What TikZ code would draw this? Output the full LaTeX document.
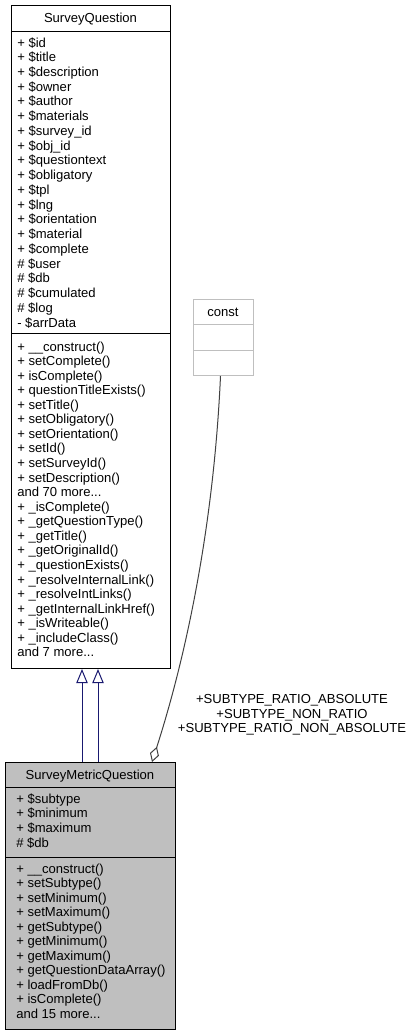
\documentclass[tikz,border=0pt]{standalone}
\usepackage{fontspec}
\setmainfont{Liberation Sans}
\usetikzlibrary{arrows.meta}
\definecolor{navyedge}{HTML}{191970}
\definecolor{edgegrey}{HTML}{404040}
\definecolor{boxgrey}{HTML}{BFBFBF}
\newcommand\mytdots{...}
\tikzset{
  x=0.75pt, y=-0.75pt,
  txt/.style={inner sep=0pt, font=\fontsize{9.8}{11}\selectfont, anchor=base west},
  ttl/.style={inner sep=0pt, font=\fontsize{9.8}{11}\selectfont, anchor=base},
  classbox/.style={draw=black, line width=0.75pt, inner sep=0pt, anchor=north west},
  constbox/.style={draw=boxgrey, line width=0.75pt, inner sep=0pt, anchor=north west},
  inh/.style={draw=navyedge, line width=0.75pt, -{Triangle[open, length=10.5pt, width=8.5pt]}},
  usage/.style={draw=edgegrey, line width=0.75pt, -{Diamond[open, length=12pt, width=7pt]}},
}
\begin{document}
\begin{tikzpicture}
\useasboundingbox (0,0) rectangle (415,1035);
% SurveyQuestion
\node[classbox, minimum width=119.25pt, minimum height=497.25pt] (sq) at (11,5) {};
\draw[line width=0.75pt] (sq.west |- 0,31) -- (sq.east |- 0,31);
\draw[line width=0.75pt] (sq.west |- 0,333) -- (sq.east |- 0,333);
\node[ttl] (sqt) at (90.5,22) {SurveyQuestion};
\foreach \t [count=\i] in {+ \$id, + \$title, + \$description, + \$owner, + \$author, + \$materials, + \$survey\_id, + \$obj\_id, + \$questiontext, + \$obligatory, + \$tpl, + \$lng, + \$orientation, + \$material, + \$complete, \# \$user, \# \$db, \# \$cumulated, \# \$log, - \$arrData}
  \node[txt] (sqa\i) at (17, {47+(\i-1)*14.74}) {\t};
\foreach \t [count=\i] in {+ \_\_construct(), + setComplete(), + isComplete(), + questionTitleExists(), + setTitle(), + setObligatory(), + setOrientation(), + setId(), + setSurveyId(), + setDescription(), and 70 more\mytdots, + \_isComplete(), + \_getQuestionType(), + \_getTitle(), + \_getOriginalId(), + \_questionExists(), + \_resolveInternalLink(), + \_resolveIntLinks(), + \_getInternalLinkHref(), + \_isWriteable(), + \_includeClass(), and 7 more\mytdots}
  \node[txt] (sqm\i) at (17, {351+(\i-1)*14.57}) {\t};
% const
\node[constbox, minimum width=45pt, minimum height=57pt] (cst) at (193,299) {};
\draw[boxgrey, line width=0.75pt] (cst.west |- 0,324) -- (cst.east |- 0,324);
\draw[boxgrey, line width=0.75pt] (cst.west |- 0,350) -- (cst.east |- 0,350);
\node[ttl] (cstt) at (223,316) {const};
% SurveyMetricQuestion
\node[classbox, fill=boxgrey, minimum width=127.5pt, minimum height=200.25pt] (smq) at (5,762) {};
\draw[line width=0.75pt] (smq.west |- 0,787) -- (smq.east |- 0,787);
\draw[line width=0.75pt] (smq.west |- 0,857) -- (smq.east |- 0,857);
\node[ttl] (smqt) at (90,779) {SurveyMetricQuestion};
\foreach \t [count=\i] in {+ \$subtype, + \$minimum, + \$maximum, \# \$db}
  \node[txt] (smqa\i) at (16, {803+(\i-1)*14.85}) {\t};
\foreach \t [count=\i] in {+ \_\_construct(), + setSubtype(), + setMinimum(), + setMaximum(), + getSubtype(), + getMinimum(), + getMaximum(), + getQuestionDataArray(), + loadFromDb(), + isComplete(), and 15 more\mytdots}
  \node[txt] (smqm\i) at (16, {873+(\i-1)*14.5}) {\t};
% inheritance edges
\draw[inh] (smq.north -| 82,0) -- (sq.south -| 82,0);
\draw[inh] (smq.north -| 98,0) -- (sq.south -| 98,0);
% usage edge
\draw[usage] ([xshift=-2.25pt]cst.south) .. controls (214,520) and (188,650) .. (smq.north -| 152,0);
\node[ttl] (lab1) at (292,703) {+SUBTYPE\_RATIO\_ABSOLUTE};
\node[ttl] (lab2) at (292,718) {+SUBTYPE\_NON\_RATIO};
\node[ttl] (lab3) at (292,732) {+SUBTYPE\_RATIO\_NON\_ABSOLUTE};
\end{tikzpicture}
\end{document}
